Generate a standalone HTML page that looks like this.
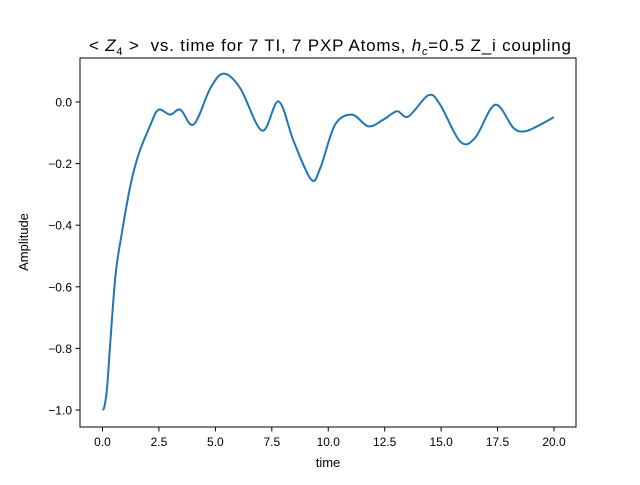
<!DOCTYPE html>
<html><head><meta charset="utf-8"><style>
body{margin:0;background:#fff}
svg text{font-family:"Liberation Sans","DejaVu Sans",sans-serif;fill:#000}
</style></head><body>
<svg id="chart" width="640" height="480" xmlns="http://www.w3.org/2000/svg">
<rect width="640" height="480" fill="#fff"/>
<text x="330" y="51" font-size="17" text-anchor="middle" textLength="482" lengthAdjust="spacing" xml:space="preserve">&lt; <tspan font-style="italic">Z</tspan><tspan font-size="11" dy="4">4</tspan><tspan dy="-4"> &gt;  vs. time for 7 TI, 7 PXP Atoms, </tspan><tspan font-style="italic">h</tspan><tspan font-size="11" font-style="italic" dy="4">c</tspan><tspan dy="-4">=0.5 Z_i coupling</tspan></text>
<g id="axes"></g>
<path id="line" fill="none" stroke="#1f77b4" stroke-width="2"/>
<rect x="80" y="58" width="496" height="369" fill="none" stroke="#000" stroke-width="1"/>
<text x="328" y="467" font-size="13" text-anchor="middle">time</text>
<text transform="translate(28,242) rotate(-90)" font-size="13" text-anchor="middle">Amplitude</text>
</svg>
<script>
const times=[0,0.08,0.2,0.35,0.58,0.87,1.24,1.6,2.12,2.48,3.0,3.45,4.04,4.78,5.37,6.1,7.07,7.8,8.47,9.25,9.65,10.3,11.05,11.78,12.45,13.04,13.55,14.44,14.96,15.84,16.5,17.39,18.2,18.72,19.38,20];
const values=[-1.0,-0.99,-0.93,-0.776,-0.56,-0.42,-0.27,-0.17,-0.075,-0.025,-0.041,-0.025,-0.073,0.045,0.092,0.045,-0.093,0.002,-0.128,-0.252,-0.214,-0.074,-0.041,-0.079,-0.057,-0.03,-0.047,0.022,-0.009,-0.128,-0.117,-0.009,-0.084,-0.095,-0.074,-0.049];
const xTicks=[0,2.5,5,7.5,10,12.5,15,17.5,20];
const xTickLabels=["0.0","2.5","5.0","7.5","10.0","12.5","15.0","17.5","20.0"];
const yTicks=[-1,-0.8,-0.6,-0.4,-0.2,0];
const yTickLabels=["−1.0","−0.8","−0.6","−0.4","−0.2","0.0"];
const sx=t=>102.5+t*22.575;
const sy=v=>102-v*308;
const NS="http://www.w3.org/2000/svg";
const ax=document.getElementById('axes');
xTicks.forEach((t,i)=>{
  const l=document.createElementNS(NS,'line');
  l.setAttribute('x1',sx(t));l.setAttribute('x2',sx(t));l.setAttribute('y1',427);l.setAttribute('y2',431.5);l.setAttribute('stroke','#000');
  
  
  ax.appendChild(l);
  const tx=document.createElementNS(NS,'text');
  tx.setAttribute('x',sx(t));tx.setAttribute('y',446);tx.setAttribute('font-size','12');tx.setAttribute('text-anchor','middle');
  tx.textContent=xTickLabels[i];
  
  
  ax.appendChild(tx);
});
yTicks.forEach((v,i)=>{
  const l=document.createElementNS(NS,'line');
  l.setAttribute('x1',75.5);l.setAttribute('x2',80);l.setAttribute('y1',sy(v));l.setAttribute('y2',sy(v));l.setAttribute('stroke','#000');
  
  
  ax.appendChild(l);
  const tx=document.createElementNS(NS,'text');
  tx.setAttribute('x',72);tx.setAttribute('y',sy(v)+4.5);tx.setAttribute('font-size','12');tx.setAttribute('text-anchor','end');
  tx.textContent=yTickLabels[i];
  
  
  ax.appendChild(tx);
});
const P=times.map((t,i)=>[sx(t),sy(values[i])]);
let d='M'+P[0][0]+','+P[0][1];
for(let i=0;i<P.length-1;i++){
  const p0=P[Math.max(0,i-1)],p1=P[i],p2=P[i+1],p3=P[Math.min(P.length-1,i+2)];
  const c1=[p1[0]+(p2[0]-p0[0])/6,p1[1]+(p2[1]-p0[1])/6];
  const c2=[p2[0]-(p3[0]-p1[0])/6,p2[1]-(p3[1]-p1[1])/6];
  d+=' C'+c1[0]+','+c1[1]+' '+c2[0]+','+c2[1]+' '+p2[0]+','+p2[1];
}
document.getElementById('line').setAttribute('d',d);
</script>
</body></html>
